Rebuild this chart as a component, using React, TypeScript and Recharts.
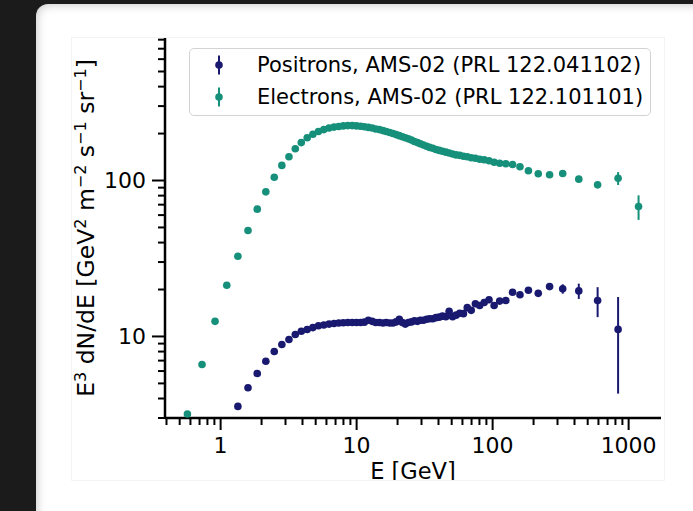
import { ScatterChart, Scatter, ErrorBar, XAxis, YAxis, Legend } from "recharts";

const FONT = "'DejaVu Sans', sans-serif";
const POSITRON_COLOR = "#191970";
const ELECTRON_COLOR = "#16907a";

// energies in GeV (bin centres)
const ELECTRON_E = [
  0.57, 0.73, 0.91, 1.11, 1.34, 1.59, 1.86, 2.15, 2.48, 2.82, 3.18, 3.54, 3.92, 4.33, 4.77,
  5.24, 5.74, 6.27, 6.82, 7.39, 7.99, 8.62, 9.28, 9.97, 10.7, 11.4, 12.2, 13.0, 13.8, 14.7,
  15.6, 16.5, 17.5, 18.5, 19.5, 20.6, 21.7, 22.8, 24.0, 25.3, 26.6, 28.0, 29.4, 31.0, 32.7,
  34.4, 36.3, 38.3, 40.5, 42.8, 45.3, 47.9, 50.8, 53.9, 57.3, 61.0, 65.1, 69.6, 74.7, 80.3,
  86.7, 94.1, 102.6, 112.7, 125.0, 140.2, 158.9, 183.3, 216.5, 262.3, 327.6, 430.1, 591.6,
  836.7, 1183.2,
];
const ELECTRON_FLUX = [
  3.18, 6.61, 12.5, 21.3, 32.7, 47.8, 65.5, 84.6, 105, 125, 142, 160, 175, 188, 198,
  206, 212, 217, 220, 222, 224, 225, 225, 224, 223, 221, 219, 217, 214, 212,
  209, 206, 203, 200, 197, 194, 191, 188, 185, 182, 178, 175, 172, 169, 166,
  163, 161, 158, 156, 154, 152, 150, 148, 146, 145, 143, 142, 140, 139, 137,
  136, 134, 131, 129, 128, 126.6, 122.4, 115.4, 110.4, 108.8, 110.9, 102, 93.8,
  103.4, 68.1,
];
const ELECTRON_ERR = [
  0, 0, 0, 0, 0, 0, 0, 0, 0, 0, 0, 0, 0, 0, 0,
  0, 0, 0, 0, 0, 0, 0, 0, 0, 0, 0, 0, 0, 0, 0,
  0, 0, 0, 0, 0, 0, 0, 0, 0, 0, 0, 0, 0, 0, 0,
  0, 0, 0, 0, 0, 0, 0, 0, 0, 0, 0, 0, 0, 0, 0,
  0, 0, 0.5, 0.6, 0.7, 0.9, 1.0, 1.2, 1.5, 1.8, 2.3, 3.0, 4.0,
  9.8, 12.2,
];

const POSITRON_E = [
  1.34, 1.59, 1.86, 2.15, 2.48, 2.82, 3.18, 3.54, 3.92, 4.33, 4.77, 5.24, 5.74, 6.27, 6.82,
  7.39, 7.99, 8.62, 9.28, 9.97, 10.7, 11.4, 12.2, 13.0, 13.8, 14.7, 15.6, 16.5, 17.5, 18.5,
  19.5, 20.6, 21.7, 22.8, 24.0, 25.3, 26.6, 28.0, 29.4, 31.0, 32.7, 34.4, 36.3, 38.3, 40.5,
  42.8, 45.3, 47.9, 50.8, 53.9, 57.3, 61.0, 65.1, 69.6, 74.7, 80.3, 86.7, 94.1, 102.6, 112.7,
  125.0, 140.2, 158.9, 183.3, 216.5, 262.3, 327.6, 430.1, 591.6, 836.7,
];
const POSITRON_FLUX = [
  3.56, 4.69, 5.79, 6.94, 8.01, 8.89, 9.57, 10.3, 10.8, 11.09, 11.4, 11.7, 11.85, 12.0, 12.1,
  12.2, 12.25, 12.3, 12.3, 12.3, 12.3, 12.35, 12.7, 12.5, 12.3, 12.3, 12.2, 12.3, 12.2, 12.2,
  12.4, 12.9, 12.3, 12.0, 12.3, 12.4, 12.6, 12.5, 12.7, 12.7, 12.9, 13.0, 13.0, 13.2, 13.3,
  13.5, 13.4, 14.5, 13.4, 13.7, 14.1, 14.0, 15.3, 14.7, 16.2, 15.8, 16.5, 17.2, 15.8, 16.85,
  17.0, 19.2, 18.5, 19.8, 18.9, 20.9, 20.2, 19.6, 17.0, 11.1,
];
const POSITRON_ERR = [
  0, 0, 0, 0, 0, 0, 0, 0, 0, 0, 0, 0, 0, 0, 0,
  0, 0, 0, 0, 0, 0, 0, 0, 0, 0, 0, 0, 0, 0, 0,
  0, 0, 0, 0, 0, 0, 0, 0, 0, 0, 0, 0, 0, 0, 0,
  0, 0, 0, 0, 0, 0, 0, 0, 0, 0, 0, 0, 0, 0.4, 0.5,
  0.5, 0.6, 0.7, 0.8, 0.9, 1.1, 1.4, 2.2, 3.7, 6.8,
];

const X_DOMAIN = [0.39, 1730];
const Y_DOMAIN = [3, 820];
const X_MAJOR = [1, 10, 100, 1000];
const X_TICKS = [
  0.4, 0.5, 0.6, 0.7, 0.8, 0.9, 1, 2, 3, 4, 5, 6, 7, 8, 9, 10, 20, 30, 40, 50, 60, 70, 80, 90,
  100, 200, 300, 400, 500, 600, 700, 800, 900, 1000,
];
const Y_MAJOR = [10, 100];
const Y_TICKS = [
  3, 4, 5, 6, 7, 8, 9, 10, 20, 30, 40, 50, 60, 70, 80, 90, 100, 200, 300, 400, 500, 600, 700, 800,
];

// y label pieces; sup = superscript
const Y_LABEL = [
  { t: "E" },
  { t: "3", sup: true },
  { t: " dN/dE [GeV" },
  { t: "2", sup: true },
  { t: " m" },
  { t: "\u22122", sup: true },
  { t: " s" },
  { t: "\u22121", sup: true },
  { t: " sr" },
  { t: "\u22121", sup: true },
  { t: "]" },
];

const SERIES = [
  {
    name: "Positrons, AMS-02 (PRL 122.041102)",
    color: POSITRON_COLOR,
    data: POSITRON_E.map((x, i) => ({ x, y: POSITRON_FLUX[i], err: POSITRON_ERR[i] })),
  },
  {
    name: "Electrons, AMS-02 (PRL 122.101101)",
    color: ELECTRON_COLOR,
    data: ELECTRON_E.map((x, i) => ({ x, y: ELECTRON_FLUX[i], err: ELECTRON_ERR[i] })),
  },
];

function XTick({ x, y, payload }: any) {
  const major = X_MAJOR.includes(payload.value);
  return (
    <g>
      <line x1={x} x2={x} y1={y} y2={y + (major ? 12 : 7)} stroke="#000" strokeWidth={2} />
      {major && (
        <text x={x} y={y + 35} textAnchor="middle" fontSize={22} fontFamily={FONT} fill="#000">
          {payload.value}
        </text>
      )}
    </g>
  );
}

function YTick({ x, y, payload }: any) {
  const major = Y_MAJOR.includes(payload.value);
  return (
    <g>
      <line x1={x - (major ? 13 : 7)} x2={x} y1={y} y2={y} stroke="#000" strokeWidth={2} />
      {major && (
        <text x={x - 19} y={y} dy="0.36em" textAnchor="end" fontSize={22} fontFamily={FONT} fill="#000">
          {payload.value}
        </text>
      )}
    </g>
  );
}

function YLabel({ viewBox }: any) {
  const cy = viewBox ? viewBox.y + viewBox.height / 2 : 190;
  const bx = 21.5;
  const shift = 8;
  return (
    <text
      x={bx}
      y={cy}
      transform={`rotate(-90, ${bx}, ${cy})`}
      textAnchor="middle"
      fontSize={23.5}
      fontFamily={FONT}
      fill="#000"
    >
      {Y_LABEL.map((p, i) => {
        const prevSup = i > 0 && Y_LABEL[i - 1].sup;
        const dy = p.sup ? -shift : prevSup ? shift : 0;
        return (
          <tspan key={i} dy={dy} fontSize={p.sup ? 16 : undefined}>
            {p.t}
          </tspan>
        );
      })}
    </text>
  );
}

function XLabel({ viewBox }: any) {
  const cx = viewBox ? viewBox.x + viewBox.width / 2 : 341;
  return (
    <text x={cx} y={441} textAnchor="middle" fontSize={22.5} fontFamily={FONT} fill="#000">
      E [GeV]
    </text>
  );
}

function LegendBox() {
  return (
    <div
      style={{
        width: 462,
        height: 68,
        boxSizing: "border-box",
        border: "1px solid #d3d3d3",
        borderRadius: 5,
        background: "rgba(255,255,255,0.8)",
        position: "relative",
        fontFamily: FONT,
        fontSize: 21,
        color: "#000",
      }}
    >
      {SERIES.map((s, i) => (
        <div
          key={s.name}
          style={{
            position: "absolute",
            left: 0,
            top: i * 32,
            height: 32,
            display: "flex",
            alignItems: "center",
            whiteSpace: "nowrap",
          }}
        >
          <svg width={67} height={32} style={{ display: "block" }}>
            <line x1={29} x2={29} y1={6.5} y2={25.5} stroke={s.color} strokeWidth={2} />
            <circle cx={29} cy={16} r={3.8} fill={s.color} />
          </svg>
          <span>{s.name}</span>
        </div>
      ))}
    </div>
  );
}

export default function App() {
  return (
    <div
      style={{
        position: "absolute",
        left: 0,
        top: 0,
        width: 693,
        height: 511,
        background: "#1b1b1b",
        overflow: "hidden",
      }}
    >
      <div
        style={{
          position: "absolute",
          left: 36,
          top: 4,
          width: 700,
          height: 540,
          borderRadius: 12,
          background: "#fff",
          boxShadow: "inset 1px 1px 10px rgba(0,0,0,0.22)",
        }}
      />
      <div
        style={{
          position: "absolute",
          left: 72,
          top: 38,
          width: 592,
          height: 442,
          background: "#fff",
          boxShadow: "0 0 0 1px #f4f4f4",
        }}
      >
        <ScatterChart width={592} height={442} margin={{ top: 0, right: 3, bottom: 0, left: 0 }}>
          <XAxis
            dataKey="x"
            type="number"
            scale="log"
            domain={X_DOMAIN}
            allowDataOverflow
            ticks={X_TICKS}
            interval={0}
            height={62}
            tickSize={0}
            tickMargin={0}
            tickLine={false}
            tick={<XTick />}
            axisLine={{ stroke: "#000", strokeWidth: 2.5 }}
            label={<XLabel />}
          />
          <XAxis
            xAxisId="top"
            orientation="top"
            dataKey="x"
            type="number"
            scale="log"
            domain={X_DOMAIN}
            height={0}
            tick={false}
            tickLine={false}
            axisLine={{ stroke: "#000", strokeWidth: 2.5 }}
          />
          <YAxis
            dataKey="y"
            type="number"
            scale="log"
            domain={Y_DOMAIN}
            allowDataOverflow
            ticks={Y_TICKS}
            interval={0}
            width={93}
            tickSize={0}
            tickMargin={0}
            tickLine={false}
            tick={<YTick />}
            axisLine={{ stroke: "#000", strokeWidth: 2.5 }}
            label={<YLabel />}
          />
          <YAxis
            yAxisId="right"
            orientation="right"
            dataKey="y"
            type="number"
            scale="log"
            domain={Y_DOMAIN}
            width={0}
            tick={false}
            tickLine={false}
            axisLine={{ stroke: "#000", strokeWidth: 2.5 }}
          />
          {SERIES.map((s) => (
            <Scatter
              key={s.name}
              name={s.name}
              data={s.data}
              fill={s.color}
              isAnimationActive={false}
              shape={(p: any) => <circle cx={p.cx} cy={p.cy} r={3.8} fill={s.color} />}
            >
              <ErrorBar
                dataKey="err"
                direction="y"
                width={0}
                stroke={s.color}
                strokeWidth={2}
                isAnimationActive={false}
              />
            </Scatter>
          ))}
          <Legend
            layout="horizontal"
            verticalAlign="middle"
            align="center"
            wrapperStyle={{ left: 117, top: 10, width: 462, height: 68 }}
            content={() => <LegendBox />}
          />
        </ScatterChart>
      </div>
    </div>
  );
}
